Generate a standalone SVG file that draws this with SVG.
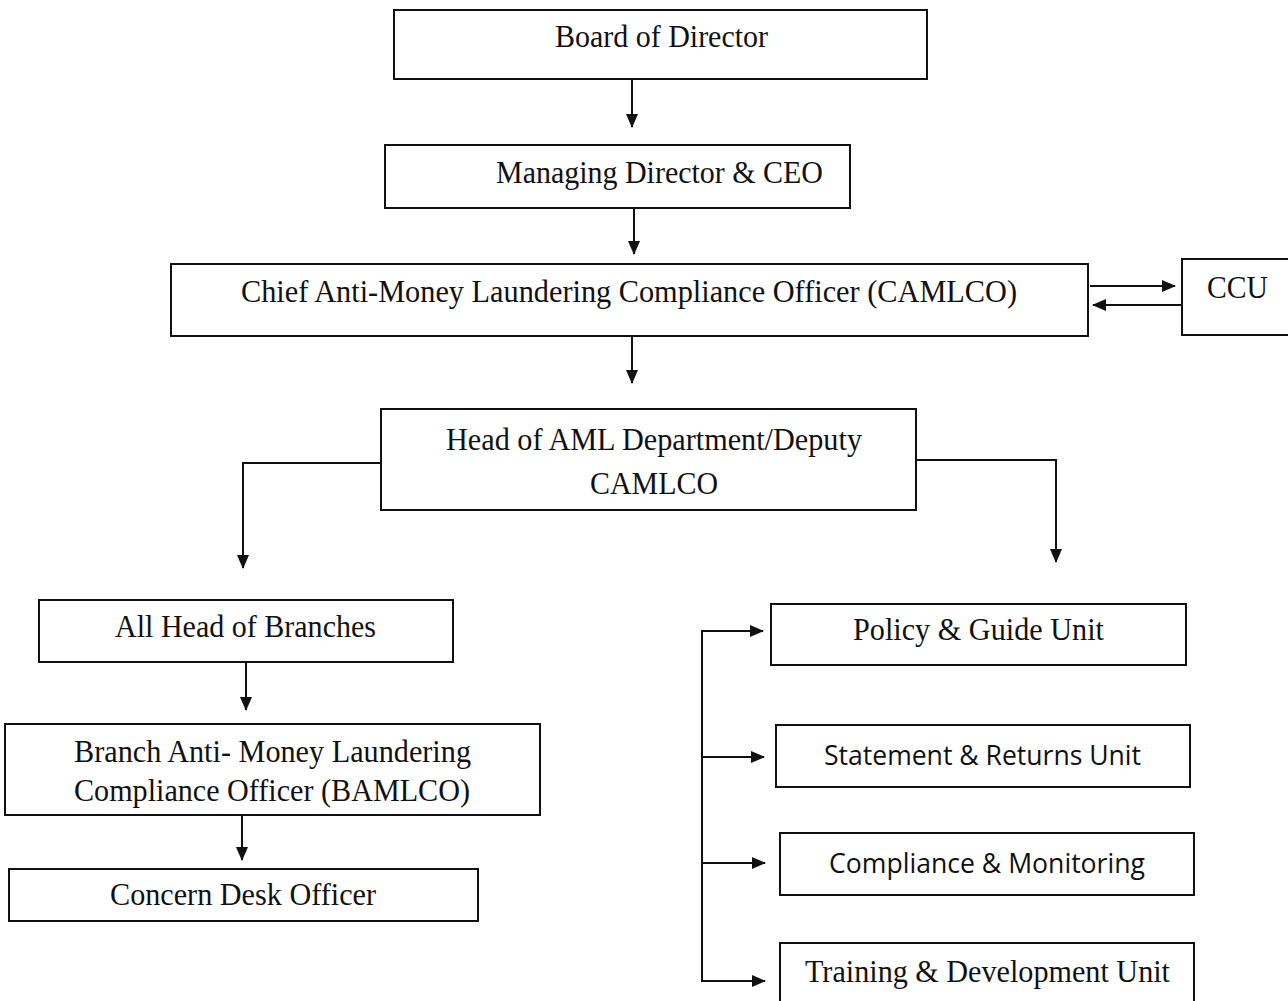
<svg xmlns="http://www.w3.org/2000/svg" width="1288" height="1001" viewBox="0 0 1288 1001">
<style>
.box{fill:#fff;stroke:#111;stroke-width:2}
.t{font-family:"Liberation Serif","Times New Roman",serif;font-size:31px;fill:#111}
.s{font-family:"Open Sans","Noto Sans",sans-serif;font-size:28px;fill:#111}
.c{fill:none;stroke:#111;stroke-width:2}
</style>
<defs>
<marker id="ah" markerWidth="14" markerHeight="14" refX="13" refY="7" orient="auto" markerUnits="userSpaceOnUse">
<path d="M0,1 L14,7 L0,13 Z" fill="#111"/>
</marker>
</defs>
<rect width="1288" height="1001" fill="#fff"/>
<g id="connectors">
<line class="c" x1="632" y1="79" x2="632" y2="127" marker-end="url(#ah)"/>
<line class="c" x1="634" y1="208" x2="634" y2="254" marker-end="url(#ah)"/>
<line class="c" x1="1090" y1="286" x2="1175" y2="286" marker-end="url(#ah)"/>
<line class="c" x1="1182" y1="305" x2="1093" y2="305" marker-end="url(#ah)"/>
<line class="c" x1="632" y1="336" x2="632" y2="383" marker-end="url(#ah)"/>
<polyline class="c" points="381,463 243,463 243,568" marker-end="url(#ah)"/>
<polyline class="c" points="916,460 1056,460 1056,562" marker-end="url(#ah)"/>
<line class="c" x1="246" y1="662" x2="246" y2="710" marker-end="url(#ah)"/>
<line class="c" x1="242" y1="815" x2="242" y2="860" marker-end="url(#ah)"/>
<polyline class="c" points="702,631 702,981"/>
<line class="c" x1="701" y1="631" x2="763" y2="631" marker-end="url(#ah)"/>
<line class="c" x1="701" y1="757" x2="764" y2="757" marker-end="url(#ah)"/>
<line class="c" x1="701" y1="863" x2="765" y2="863" marker-end="url(#ah)"/>
<line class="c" x1="701" y1="981" x2="765" y2="981" marker-end="url(#ah)"/>
</g>
<g id="board"><rect class="box" x="394" y="10" width="533" height="69"/><text class="t" x="555" y="47" textLength="213" lengthAdjust="spacingAndGlyphs">Board of Director</text></g>
<g id="md"><rect class="box" x="385" y="145" width="465" height="63"/><text class="t" x="496" y="183" textLength="327" lengthAdjust="spacingAndGlyphs">Managing Director &amp; CEO</text></g>
<g id="camlco"><rect class="box" x="171" y="264" width="917" height="72"/><text class="t" x="241" y="302" textLength="776" lengthAdjust="spacingAndGlyphs">Chief Anti-Money Laundering Compliance Officer (CAMLCO)</text></g>
<g id="ccu"><rect class="box" x="1182" y="259" width="110" height="76"/><text class="t" x="1207" y="298" textLength="61" lengthAdjust="spacingAndGlyphs">CCU</text></g>
<g id="head-aml"><rect class="box" x="381" y="409" width="535" height="101"/><text class="t" x="446" y="450" textLength="416" lengthAdjust="spacingAndGlyphs">Head of AML Department/Deputy</text><text class="t" x="590" y="494" textLength="128" lengthAdjust="spacingAndGlyphs">CAMLCO</text></g>
<g id="branches"><rect class="box" x="39" y="600" width="414" height="62"/><text class="t" x="115" y="637" textLength="261" lengthAdjust="spacingAndGlyphs">All Head of Branches</text></g>
<g id="bamlco"><rect class="box" x="5" y="724" width="535" height="91"/><text class="t" x="74" y="762" textLength="397" lengthAdjust="spacingAndGlyphs">Branch Anti- Money Laundering</text><text class="t" x="74" y="801" textLength="396" lengthAdjust="spacingAndGlyphs">Compliance Officer (BAMLCO)</text></g>
<g id="desk"><rect class="box" x="9" y="869" width="469" height="52"/><text class="t" x="110" y="905" textLength="266" lengthAdjust="spacingAndGlyphs">Concern Desk Officer</text></g>
<g id="policy"><rect class="box" x="771" y="604" width="415" height="61"/><text class="t" x="853" y="640" textLength="251" lengthAdjust="spacingAndGlyphs">Policy &amp; Guide Unit</text></g>
<g id="statement"><rect class="box" x="776" y="725" width="414" height="62"/><text class="s" x="824" y="765" textLength="317" lengthAdjust="spacingAndGlyphs">Statement &amp; Returns Unit</text></g>
<g id="compliance"><rect class="box" x="780" y="833" width="414" height="62"/><text class="s" x="829" y="873" textLength="316" lengthAdjust="spacingAndGlyphs">Compliance &amp; Monitoring</text></g>
<g id="training"><rect class="box" x="780" y="943" width="414" height="70"/><text class="t" x="805" y="982" textLength="365" lengthAdjust="spacingAndGlyphs">Training &amp; Development Unit</text></g>
</svg>
